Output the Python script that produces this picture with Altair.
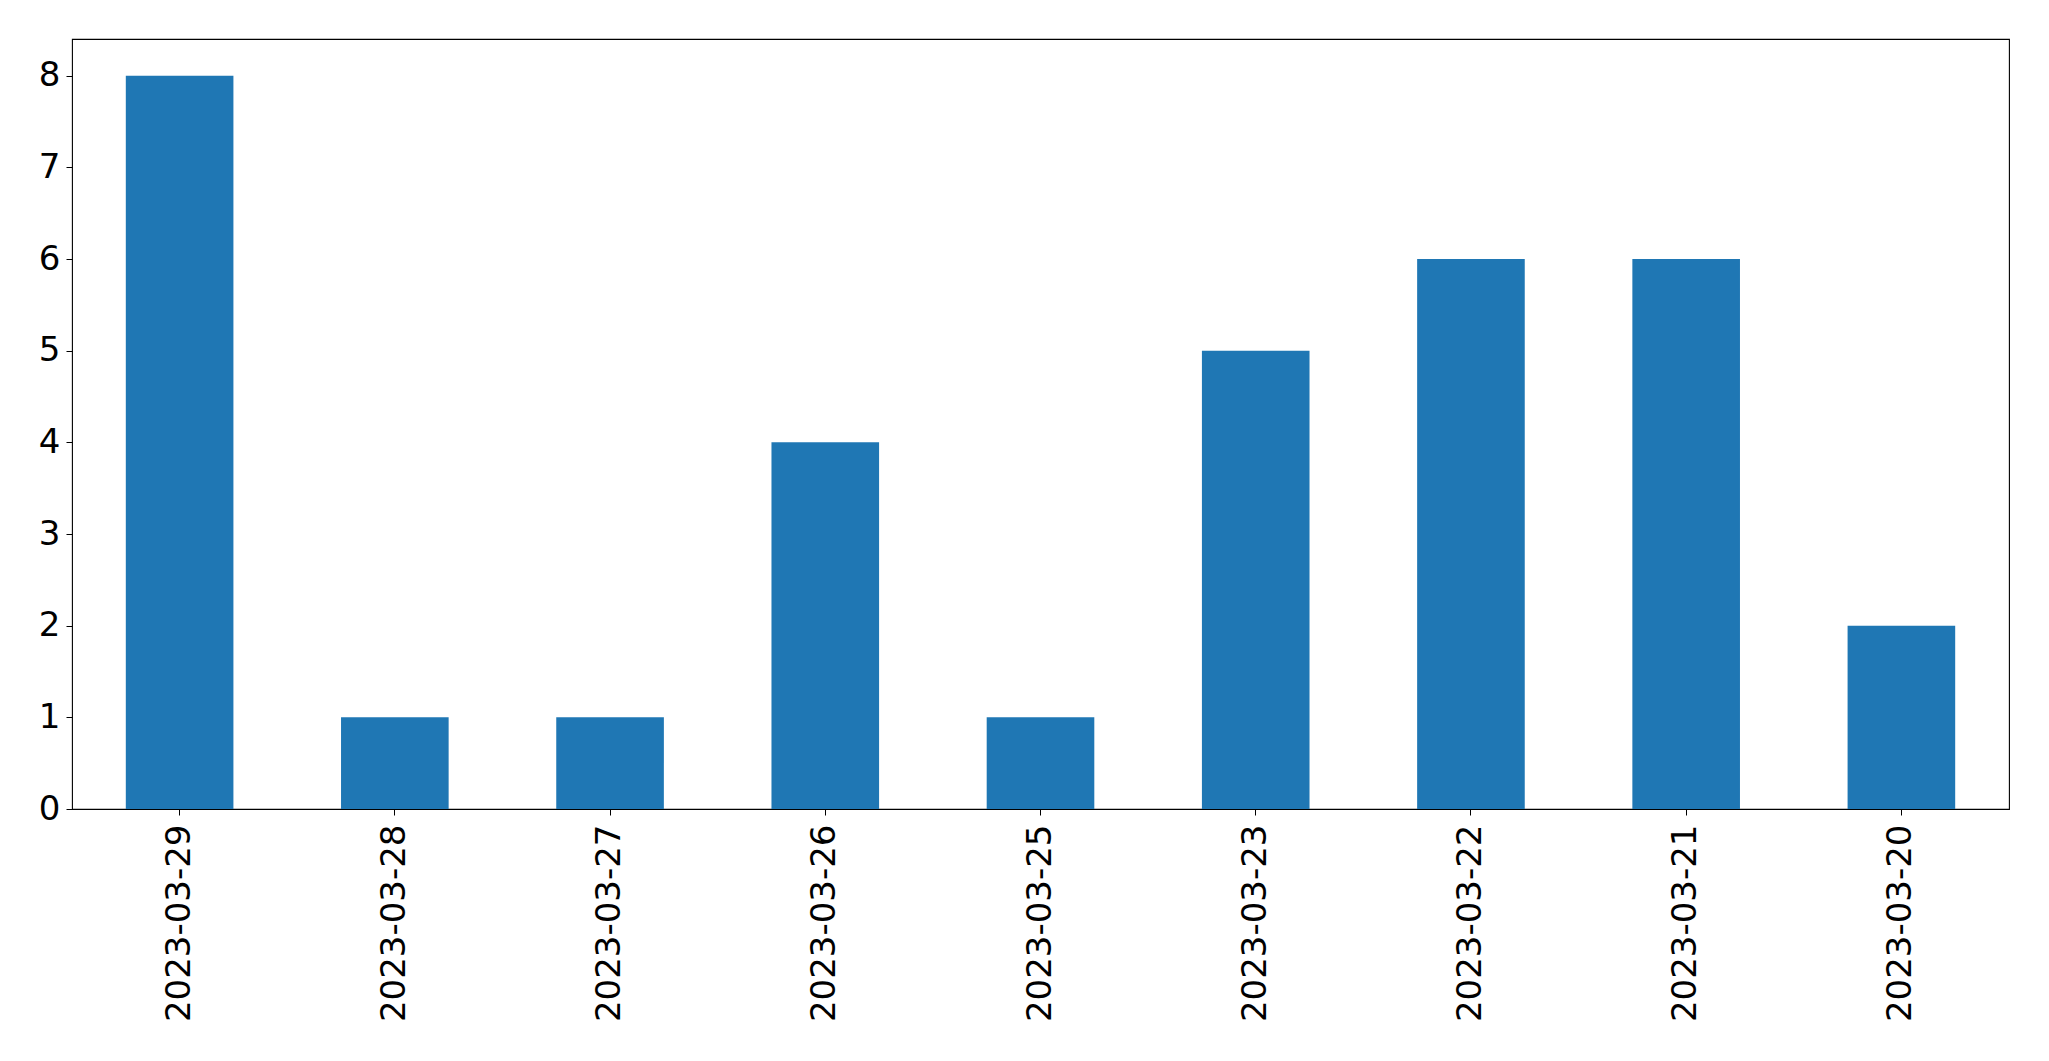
import altair as alt
import pandas as pd

dates = ["2023-03-29", "2023-03-28", "2023-03-27", "2023-03-26", "2023-03-25",
         "2023-03-23", "2023-03-22", "2023-03-21", "2023-03-20"]
counts = [8, 1, 1, 4, 1, 5, 6, 6, 2]
y_ticks = [0, 1, 2, 3, 4, 5, 6, 7, 8]

df = pd.DataFrame({"date": dates, "count": counts})

chart = alt.Chart(df).mark_bar(color="#1f77b4").encode(
    x=alt.X("date:N", sort=dates, title=None,
            scale=alt.Scale(paddingInner=0.5, paddingOuter=0.25),
            axis=alt.Axis(labelAngle=270, labelFontSize=34, labelFont="DejaVu Sans",
                          labelColor="black", tickColor="black", tickSize=6,
                          tickWidth=1, labelPadding=9, domain=False, labelLimit=0,
                          labelAlign="right", labelBaseline="middle")),
    y=alt.Y("count:Q", title=None,
            scale=alt.Scale(domain=[0, 8.4], nice=False),
            axis=alt.Axis(values=y_ticks, labelFontSize=34, labelFont="DejaVu Sans",
                          labelColor="black", tickColor="black", tickSize=6,
                          tickWidth=1, labelPadding=6, grid=False, domain=False,
                          format="d")),
).properties(
    width=1937, height=770,
    autosize=alt.AutoSizeParams(type="none"),
    padding={"left": 64, "top": 31, "right": 32, "bottom": 236},
).configure_view(stroke="black", strokeWidth=1.1)

chart.save("out.html", embed_options={"renderer": "svg", "actions": False})
